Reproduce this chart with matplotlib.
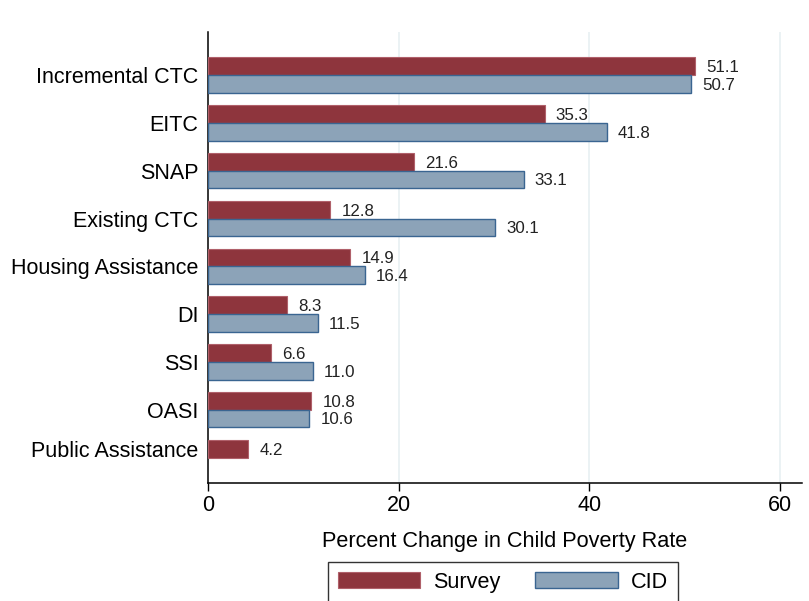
import numpy as np
import matplotlib
matplotlib.use("Agg")
import matplotlib.pyplot as plt
from matplotlib.patches import Patch

plt.rcParams["font.family"] = ["Liberation Sans", "DejaVu Sans"]

categories = ["Incremental CTC", "EITC", "SNAP", "Existing CTC", "Housing Assistance",
              "DI", "SSI", "OASI", "Public Assistance"]
survey = [51.1, 35.3, 21.6, 12.8, 14.9, 8.3, 6.6, 10.8, 4.2]
cid = [50.7, 41.8, 33.1, 30.1, 16.4, 11.5, 11.0, 10.6, np.nan]
series_names = ["Survey", "CID"]

survey_fill, survey_edge = "#8E353D", "#B0606A"
cid_fill, cid_edge = "#8CA3B8", "#3A6591"
styles = [(survey_fill, survey_edge, 0.8), (cid_fill, cid_edge, 1.0)]

fig = plt.figure(figsize=(8.09, 6.01), dpi=100)
ax = fig.add_axes([208.3 / 809, 1 - 482.7 / 601, (801.7 - 208.3) / 809, (482.7 - 32.3) / 601])

# stata-style stacking: each group takes as many slots as it has bars
gap, margin = 0.714, 1.43
pos = 0.0
tick_pos = []
for i, cat in enumerate(categories):
    vals = [(k, v) for k, v in enumerate([survey[i], cid[i]]) if not np.isnan(v)]
    for j, (k, v) in enumerate(vals):
        fc, ec, lw = styles[k]
        y = pos + j + 0.5
        ax.barh(y, v, height=1.0, color=fc, edgecolor=ec, linewidth=lw, zorder=3)
        ax.annotate(f"{v:.1f}", (v, y), xytext=(8, -1), textcoords="offset points",
                    va="center", ha="left", fontsize=12.2, color="#222222")
    tick_pos.append(pos + len(vals) / 2)
    pos += len(vals) + gap

ax.set_ylim(pos - gap + margin, -margin)
ax.set_xlim(0, 62.28)
ax.set_yticks(tick_pos)
ax.set_yticklabels(categories, fontsize=15.5)
ax.tick_params(axis="y", length=0, pad=7)
ax.set_xticks([0, 20, 40, 60])
ax.tick_params(axis="x", labelsize=15.5, length=5.8, width=1, pad=3)

for x in [20, 40, 60]:
    ax.axvline(x, color="#E6EFF1", linewidth=1.1, zorder=1)

for s in ["top", "right"]:
    ax.spines[s].set_visible(False)
ax.spines["left"].set_linewidth(1.1)
ax.spines["bottom"].set_linewidth(1.1)

ax.set_xlabel("Percent Change in Child Poverty Rate", fontsize=15.6, labelpad=11)

handles = [Patch(facecolor=fc, edgecolor=ec, linewidth=lw) for fc, ec, lw in styles]
leg = fig.legend(handles, series_names, loc="upper center", ncol=2,
                 bbox_to_anchor=(503 / 809, 1 - 562 / 601), fontsize=15.6,
                 frameon=True, fancybox=False, edgecolor="black", borderaxespad=0,
                 handlelength=3.8, handleheight=0.75, handletextpad=0.6,
                 columnspacing=1.6, borderpad=0.45)
leg.get_frame().set_linewidth(1.0)

fig.savefig("out.png", dpi=100)
